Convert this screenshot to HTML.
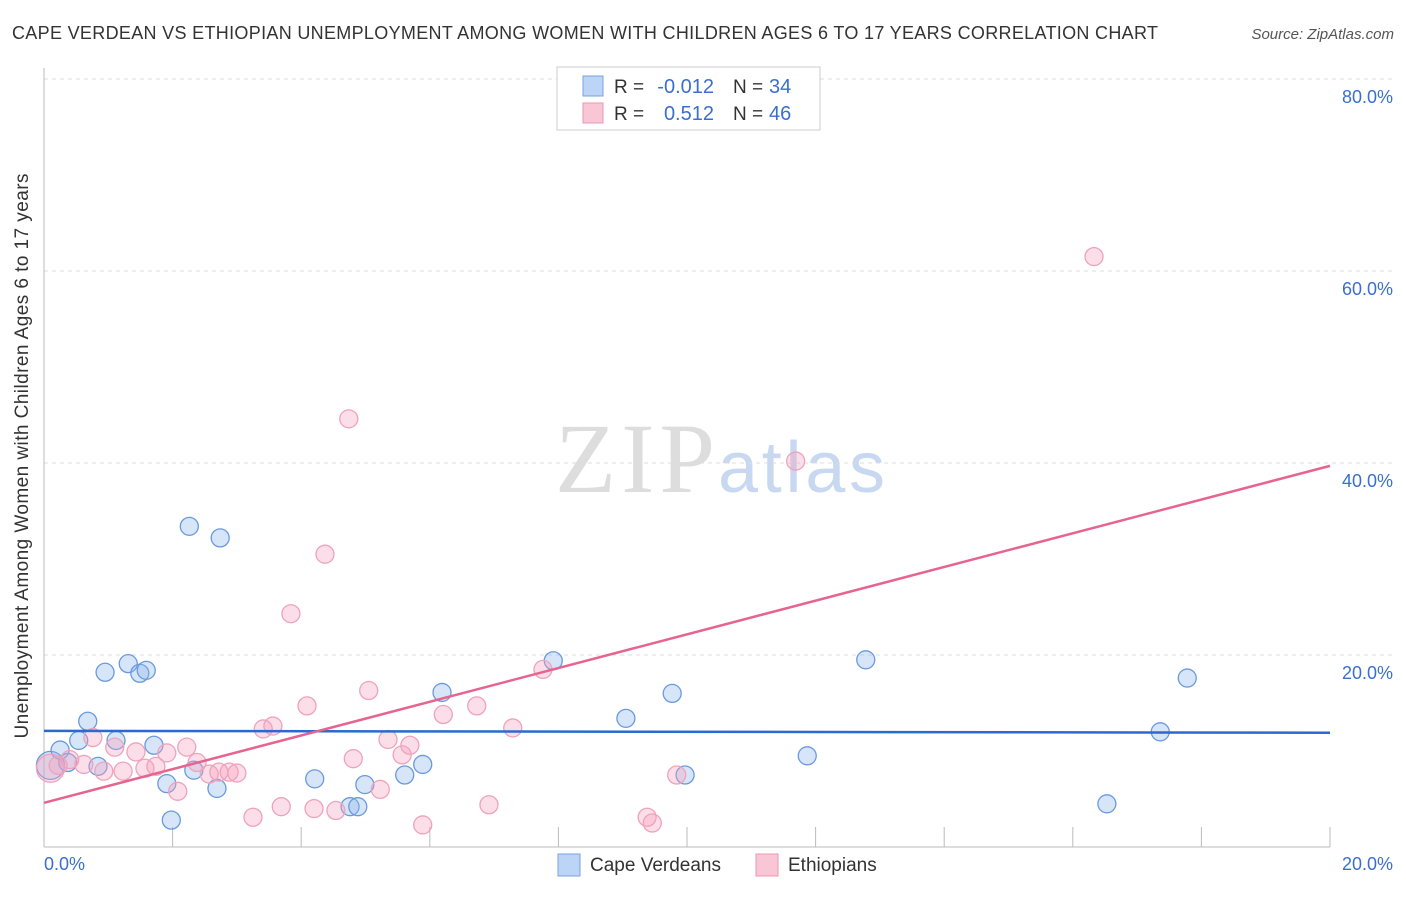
<!DOCTYPE html>
<html><head><meta charset="utf-8"><style>
body{margin:0;background:#fff;font-family:"Liberation Sans",sans-serif}
</style></head><body>
<svg width="1406" height="892" xmlns="http://www.w3.org/2000/svg">
<text x="12" y="39" font-size="18" fill="#333" textLength="1146" lengthAdjust="spacing">CAPE VERDEAN VS ETHIOPIAN UNEMPLOYMENT AMONG WOMEN WITH CHILDREN AGES 6 TO 17 YEARS CORRELATION CHART</text>
<text x="1394" y="39" font-size="15" fill="#555" text-anchor="end" font-style="italic">Source: ZipAtlas.com</text>
<text x="555" y="492" font-size="100" fill="#ddd" font-family="Liberation Serif" textLength="160">ZIP</text>
<text x="718" y="492" font-size="72" fill="#c8d8f0" textLength="167">atlas</text>
<g id="grid"></g>
<line x1="44" y1="68" x2="44" y2="847" stroke="#bbb"/>
<line x1="44" y1="847" x2="1330" y2="847" stroke="#bbb"/>
<g id="pts"></g>
<text x="28" y="456" font-size="19" fill="#333" text-anchor="middle" textLength="565" transform="rotate(-90 28 456)">Unemployment Among Women with Children Ages 6 to 17 years</text>
<text x="44" y="870" font-size="18" fill="#3a6fd0">0.0%</text>
<text x="1393" y="870" font-size="18" fill="#3a6fd0" text-anchor="end">20.0%</text>
<g>
<rect x="557" y="67" width="263" height="63" fill="#fff" stroke="#ccc"/>
<rect x="583" y="76" width="20" height="20" fill="#bcd4f5" stroke="#7aa3e0"/>
<rect x="583" y="103" width="20" height="20" fill="#f9c6d6" stroke="#e89ab3"/>
<text x="614" y="93" font-size="19" fill="#333">R =</text>
<text x="714" y="93" font-size="20" fill="#3a6fd0" text-anchor="end">-0.012</text>
<text x="733" y="93" font-size="19" fill="#333">N =</text>
<text x="769" y="93" font-size="20" fill="#3a6fd0">34</text>
<text x="614" y="120" font-size="19" fill="#333">R =</text>
<text x="714" y="120" font-size="20" fill="#3a6fd0" text-anchor="end">0.512</text>
<text x="733" y="120" font-size="19" fill="#333">N =</text>
<text x="769" y="120" font-size="20" fill="#3a6fd0">46</text>
</g>
<g>
<rect x="558" y="854" width="22" height="22" fill="#bcd4f5" stroke="#7aa3e0"/>
<text x="590" y="871" font-size="19" fill="#333">Cape Verdeans</text>
<rect x="756" y="854" width="22" height="22" fill="#f9c6d6" stroke="#e89ab3"/>
<text x="788" y="871" font-size="19" fill="#333">Ethiopians</text>
</g>
</svg>
<script>
const yTicks=[20,40,60,80];
const xTicks=[0,2,4,6,8,10,12,14,16,18,20];
const blueX=[0.1,0.25,0.37,0.54,0.68,0.84,0.95,1.12,1.31,1.49,1.59,1.71,1.91,1.98,2.26,2.33,2.69,2.74,4.21,4.76,4.88,4.99,5.61,5.89,6.19,7.92,9.05,9.77,9.97,11.87,12.78,16.53,17.36,17.78];
const blueY=[8.5,10.1,8.8,11.1,13.1,8.4,18.2,11.1,19.1,18.1,18.4,10.6,6.6,2.8,33.4,8.0,6.1,32.2,7.1,4.2,4.2,6.5,7.5,8.6,16.1,19.4,13.4,16.0,7.5,9.5,19.5,4.5,12.0,17.6];
const pinkX=[0.1,0.22,0.4,0.62,0.76,0.93,1.1,1.23,1.43,1.57,1.74,1.91,2.08,2.22,2.38,2.57,2.72,2.88,3.0,3.25,3.41,3.56,3.69,3.84,4.09,4.2,4.37,4.54,4.74,4.81,5.05,5.23,5.35,5.57,5.69,5.89,6.21,6.73,6.92,7.29,7.76,9.38,9.46,9.84,11.69,16.33];
const pinkY=[8.2,8.5,9.1,8.6,11.4,7.9,10.4,7.9,9.9,8.2,8.4,9.8,5.8,10.4,8.8,7.6,7.8,7.8,7.7,3.1,12.3,12.6,4.2,24.3,14.7,4.0,30.5,3.8,44.6,9.2,16.3,6.0,11.2,9.6,10.6,2.3,13.8,14.7,4.4,12.4,18.5,3.1,2.5,7.5,40.2,61.5];
const blueLine=[12.1,11.9];
const pinkLine=[4.6,39.7];
const X=v=>44+v*64.3, Y=v=>847-v*9.6;
const ns="http://www.w3.org/2000/svg";
const grid=document.getElementById('grid'), pts=document.getElementById('pts');
function mk(tag,attrs,parent){const e=document.createElementNS(ns,tag);for(const k in attrs)e.setAttribute(k,attrs[k]);parent.appendChild(e);return e;}
yTicks.forEach(t=>{
 const l=mk('line',{x1:44,x2:1394,y1:Y(t),y2:Y(t),stroke:'#ddd','stroke-dasharray':'4,4'},grid);
 
 
 const tx=mk('text',{x:1393,y:Y(t)+24,'font-size':18,fill:'#3a6fd0','text-anchor':'end'},grid);
 tx.textContent=t.toFixed(1)+'%';
 
 
});
xTicks.forEach(t=>{
 const l=mk('line',{x1:X(t),x2:X(t),y1:827,y2:847,stroke:'#bbb'},grid);
 
 
});
blueX.forEach((v,i)=>{
 const c=mk('circle',{cx:X(v),cy:Y(blueY[i]),r:i==0?14:9,fill:'rgba(140,180,235,0.35)',stroke:'#6a9ade','stroke-width':1.3},pts);
 
 
});
pinkX.forEach((v,i)=>{
 const c=mk('circle',{cx:X(v),cy:Y(pinkY[i]),r:i==0?14:9,fill:'rgba(245,160,190,0.35)',stroke:'#eea3bb','stroke-width':1.3},pts);
 
 
});
const bl=mk('line',{x1:X(0),x2:X(20),y1:Y(blueLine[0]),y2:Y(blueLine[1]),stroke:'#2a6ad0','stroke-width':2.5},pts);


const pl=mk('line',{x1:X(0),x2:X(20),y1:Y(pinkLine[0]),y2:Y(pinkLine[1]),stroke:'#e6648f','stroke-width':2.5},pts);


</script>
</body></html>
